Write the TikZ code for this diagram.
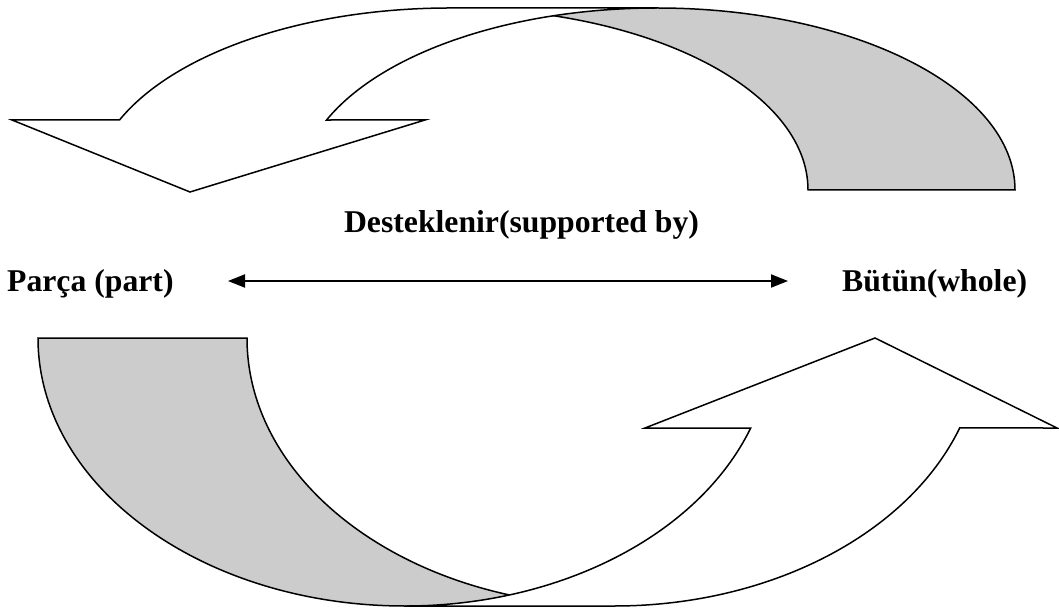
\documentclass[tikz,border=0pt]{standalone}
\usepackage{fontspec}
\setmainfont{Liberation Serif}
\usepackage{tikz}
\usetikzlibrary{arrows.meta,positioning}
\definecolor{backgray}{RGB}{204,204,204}
\tikzset{
band/.style = {draw=black, line width=1.5pt, line join=miter},% kavisli ok govdesi
band_b/.style = {band, fill=backgray},% arka yuz, gri
band_f/.style = {band, fill=white},% on yuz, beyaz
term/.style = {inner sep=0pt, font=\fontsize{31.7}{38}\selectfont\bfseries},% metin
link/.style = {line width=2pt, {Triangle[length=17pt,width=13pt]}-{Triangle[length=17pt,width=13pt]}}% iki yonlu ok
}

\begin{document}
\begin{tikzpicture}[x=1pt, y=-1pt]
  \useasboundingbox (0,0) rectangle (1059,609);
  % ust ok (asagi donen)
  \draw [band_b] (808,190) arc[start angle=0, end angle=-90, x radius=358, y radius=182]
    -- (657,8) arc[start angle=-90, end angle=0, x radius=358, y radius=182] -- cycle;
  \draw [band_f] (119.5,120) arc[start angle=202.62, end angle=270, x radius=358, y radius=182]
    -- (657,8) arc[start angle=270, end angle=202.62, x radius=358, y radius=182]
    -- (425,120) -- (190,192) -- (12,120) -- cycle;
  % alt ok (yukari donen)
  \draw [band_b] (38,338) arc[start angle=180, end angle=90, x radius=367, y radius=268]
    -- (614,606) arc[start angle=90, end angle=180, x radius=367, y radius=268] -- cycle;
  \draw [band_f] (750.7,428) arc[start angle=19.62, end angle=90, x radius=367, y radius=268]
    -- (614,606) arc[start angle=90, end angle=19.62, x radius=367, y radius=268]
    -- (1057,428) -- (875,338) -- (645,428) -- cycle;
  % metinler
  \node [term, anchor=base] (rel) at (521.5,233) {Desteklenir(supported by)};
  \node [term, anchor=base west] (part) at (7,292) {Parça (part)};
  \node [term, anchor=base west] (whole) at (842,292) {Bütün(whole)};
  \coordinate (l_end) at (228,281);
  \coordinate (r_end) at (788,281);
  \draw [link] (l_end) -- (r_end);
\end{tikzpicture}
\end{document}
